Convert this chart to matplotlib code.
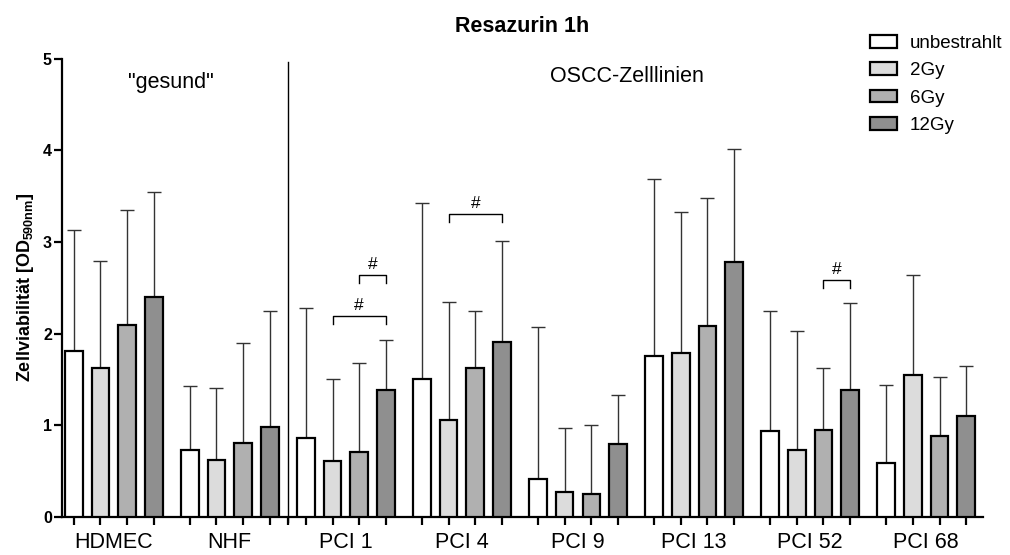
import matplotlib
matplotlib.use("Agg")
import matplotlib.pyplot as plt
from matplotlib.patches import Patch
import numpy as np

plt.rcParams['font.family'] = ['Liberation Sans', 'DejaVu Sans']
plt.rcParams['mathtext.fontset'] = 'custom'
plt.rcParams['mathtext.rm'] = 'Liberation Sans'
plt.rcParams['mathtext.bf'] = 'Liberation Sans:bold'

# ---- data ----
groups = ['HDMEC', 'NHF', 'PCI 1', 'PCI 4', 'PCI 9', 'PCI 13', 'PCI 52', 'PCI 68']
series = ['unbestrahlt', '2Gy', '6Gy', '12Gy']

unbestrahlt = [1.81, 0.73, 0.86, 1.50, 0.41, 1.76, 0.94, 0.59]
gy2 = [1.62, 0.62, 0.61, 1.06, 0.27, 1.79, 0.73, 1.55]
gy6 = [2.09, 0.81, 0.71, 1.62, 0.25, 2.08, 0.95, 0.88]
gy12 = [2.40, 0.98, 1.39, 1.91, 0.80, 2.78, 1.38, 1.10]

sd_unbestrahlt = [1.32, 0.70, 1.42, 1.92, 1.66, 1.93, 1.31, 0.85]
sd_gy2 = [1.17, 0.79, 0.90, 1.29, 0.70, 1.54, 1.30, 1.09]
sd_gy6 = [1.26, 1.09, 0.97, 0.63, 0.75, 1.40, 0.67, 0.65]
sd_gy12 = [1.14, 1.27, 0.54, 1.10, 0.53, 1.23, 0.95, 0.55]

# significance brackets: (group index, bar from, bar to, height)
brackets = [(2, 1, 3, 2.19), (2, 2, 3, 2.64), (3, 1, 3, 3.31), (6, 2, 3, 2.59)]

means = [unbestrahlt, gy2, gy6, gy12]
sds = [sd_unbestrahlt, sd_gy2, sd_gy6, sd_gy12]
colors = ['white', '#dcdcdc', '#b0b0b0', '#8f8f8f']

group_step = 4.35
bar_w = 0.66

fig = plt.figure(figsize=(10.1, 5.55), dpi=100)
ax = fig.add_axes([0.0611, 0.0685, 0.973 - 0.0611, 0.826])

gx = np.arange(len(groups)) * group_step
for i, (m, s) in enumerate(zip(means, sds)):
    x = gx + i
    ax.bar(x, m, width=bar_w, color=colors[i], edgecolor='black', linewidth=1.6, zorder=3)
    ax.errorbar(x, m, yerr=[np.zeros(len(s)), s], fmt='none', ecolor='#333333',
                elinewidth=1.0, capsize=5, capthick=1.0, zorder=2)

# brackets with '#'
for g, a, b, y in brackets:
    x0, x1 = gx[g] + a, gx[g] + b
    ax.plot([x0, x0, x1, x1], [y - 0.09, y, y, y - 0.09], color='black', lw=1.0, zorder=4)
    ax.text((x0 + x1) / 2, y + 0.03, '#', ha='center', va='bottom', fontsize=12.5)

# separator between "gesund" and tumour lines
sep = (gx[1] + 3 + gx[2]) / 2
ax.plot([sep, sep], [-0.06, 4.96], color='black', lw=1.0, clip_on=False, zorder=4)

ax.text(3.64, 4.74, '"gesund"', ha='center', va='center', fontsize=15.5)
ax.text(20.73, 4.80, 'OSCC-Zelllinien', ha='center', va='center', fontsize=15.5)

ax.set_xlim(-0.45, gx[-1] + 3 + 0.62)
ax.set_ylim(0, 5)
ax.set_yticks([0, 1, 2, 3, 4, 5])
ax.set_yticklabels(['0', '1', '2', '3', '4', '5'], fontweight='bold', fontsize=11.5)

bar_ticks = sorted(list((gx[:, None] + np.arange(4)).ravel()) + [sep])
ax.set_xticks(bar_ticks)
ax.set_xticklabels([''] * len(bar_ticks))
ax.set_xticks(gx + 1.5, minor=True)
ax.set_xticklabels(groups, minor=True, fontsize=15.5)
ax.tick_params(axis='x', which='minor', length=0, pad=11)
ax.tick_params(axis='x', which='major', length=6, width=1.6)
ax.tick_params(axis='y', length=6, width=1.6, pad=1)

for side in ['top', 'right']:
    ax.spines[side].set_visible(False)
for side in ['left', 'bottom']:
    ax.spines[side].set_linewidth(1.6)

ax.set_ylabel(r'Zellviabilität [OD$_{\mathbf{590nm}}$]', fontsize=13, fontweight='bold', labelpad=5)
ax.set_title('Resazurin 1h', fontsize=15.5, fontweight='bold', pad=19)

handles = [Patch(facecolor=c, edgecolor='black', linewidth=1.6) for c in colors]
fig.legend(handles, series, loc='upper left', bbox_to_anchor=(0.861, 0.937),
           bbox_transform=fig.transFigure, frameon=False, fontsize=13.5,
           handlelength=1.45, handleheight=0.65, handletextpad=0.7,
           labelspacing=0.55, borderpad=0, borderaxespad=0)

fig.savefig('out.png', dpi=100)
